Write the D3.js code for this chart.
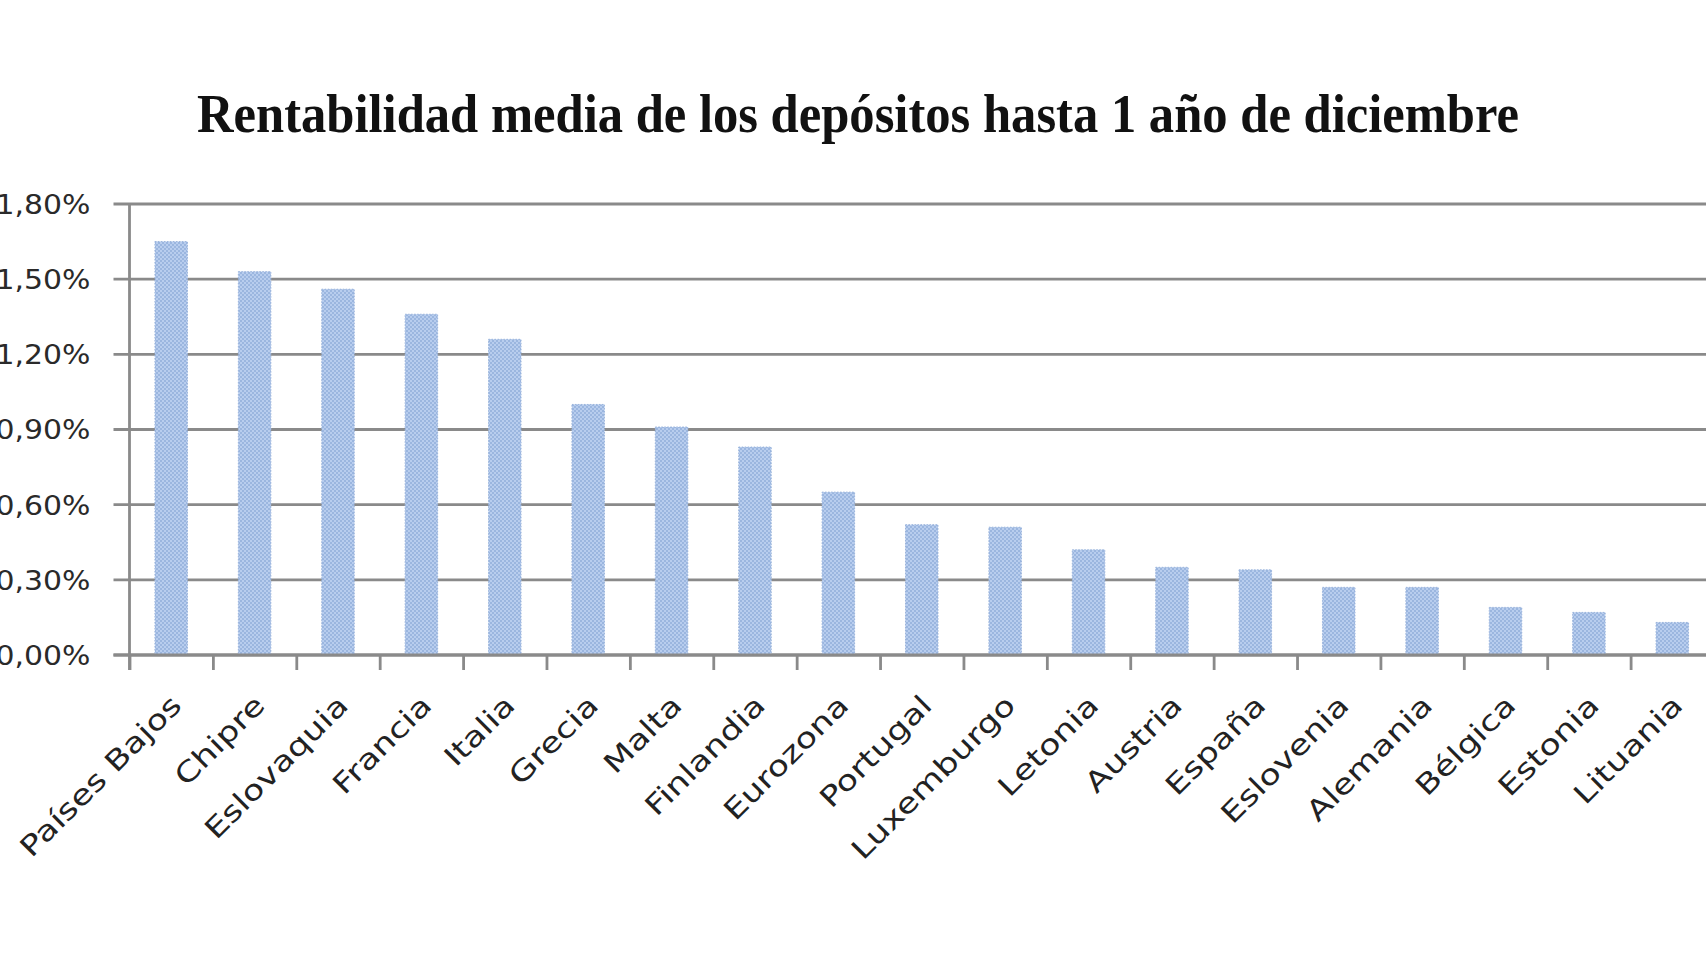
<!DOCTYPE html>
<html>
<head>
<meta charset="utf-8">
<script src="https://cdn.jsdelivr.net/npm/d3@7"></script>
<style>
  html, body { margin: 0; padding: 0; background: #ffffff; }
  svg { display: block; }
</style>
</head>
<body>
<svg id="chart" width="1706" height="960"></svg>
<script>
const titleText = "Rentabilidad media de los depósitos hasta 1 año de diciembre";
const categories = ["Países Bajos","Chipre","Eslovaquia","Francia","Italia","Grecia","Malta","Finlandia","Eurozona","Portugal","Luxemburgo","Letonia","Austria","España","Eslovenia","Alemania","Bélgica","Estonia","Lituania"];
const values = [1.65,1.53,1.46,1.36,1.26,1.00,0.91,0.83,0.65,0.52,0.51,0.42,0.35,0.34,0.27,0.27,0.19,0.17,0.13];
const yTicks = [0,0.3,0.6,0.9,1.2,1.5,1.8];

const W = 1706, H = 960;
const plotLeft = 129.5, plotRight = 1714, plotTop = 204, plotBottom = 655;

const svg = d3.select("#chart");

// pattern for bars
const defs = svg.append("defs");
const pat = defs.append("pattern").attr("id","dots").attr("patternUnits","userSpaceOnUse")
  .attr("width",4).attr("height",4);
pat.append("rect").attr("width",4).attr("height",4).attr("fill","#b8cdee");
pat.append("circle").attr("cx",1).attr("cy",1).attr("r",1).attr("fill","#92aedb");
pat.append("circle").attr("cx",3).attr("cy",3).attr("r",1).attr("fill","#92aedb");

const x = d3.scaleBand().domain(categories).range([plotLeft, plotRight]).paddingInner(0.61).paddingOuter(0.305);
const y = d3.scaleLinear().domain([0, 1.8]).range([plotBottom, plotTop]);
const xb = d3.scaleLinear().domain([0, categories.length]).range([plotLeft, plotRight]);

// title
svg.append("text")
  .attr("x", 858).attr("y", 132)
  .attr("text-anchor","middle")
  .attr("font-family","'Liberation Serif', serif")
  .attr("font-weight","bold")
  .attr("font-size", 54)
  .attr("textLength", 1322)
  .attr("lengthAdjust","spacingAndGlyphs")
  .attr("fill","#111")
  .text(titleText);

// gridlines
svg.append("g")
  .selectAll("line").data(yTicks).join("line")
  .attr("x1", plotLeft - 16).attr("x2", W)
  .attr("y1", d => y(d)).attr("y2", d => y(d))
  .attr("stroke","#8a8a8a").attr("stroke-width",2.8);

// y axis
const yAxis = svg.append("g").attr("transform", `translate(${plotLeft},0)`)
  .call(d3.axisLeft(y).tickValues(yTicks).tickSize(0).tickSizeOuter(0)
    .tickFormat(d => d.toFixed(2).replace(".", ",") + "%"));
yAxis.select(".domain").remove();
yAxis.selectAll("text")
  .attr("x", 0)
  .attr("dy", "0.36em")
  .attr("transform","translate(-39,0) scale(1.15,1)")
  .attr("font-family","'DejaVu Sans', sans-serif")
  .attr("font-size", 26)
  .attr("fill","#2a2a2a");
svg.append("line")
  .attr("x1", plotLeft).attr("x2", plotLeft)
  .attr("y1", y(1.8)).attr("y2", plotBottom + 15)
  .attr("stroke","#8a8a8a").attr("stroke-width",2.8);

// bars
svg.append("g").selectAll("rect").data(values).join("rect")
  .attr("x", (d,i) => x(categories[i]))
  .attr("width", x.bandwidth())
  .attr("y", d => y(d))
  .attr("height", d => y(0) - y(d))
  .attr("fill","url(#dots)")
  .attr("stroke","#9ab4dc").attr("stroke-width",1).attr("stroke-dasharray","1.5,1.5");

// x axis boundary ticks
const xAxis = svg.append("g").attr("transform", `translate(0,${plotBottom})`)
  .call(d3.axisBottom(xb).tickValues(d3.range(0, categories.length + 1)).tickSize(15).tickSizeOuter(0).tickFormat(""));
xAxis.select(".domain").remove();
xAxis.selectAll("line").attr("stroke","#8a8a8a").attr("stroke-width",2.8);
svg.append("line")
  .attr("x1", plotLeft - 16).attr("x2", W)
  .attr("y1", y(0)).attr("y2", y(0))
  .attr("stroke","#8a8a8a").attr("stroke-width",2.8);

// category labels
svg.append("g").selectAll("text").data(categories).join("text")
  .attr("transform", d => `translate(${x(d) + x.bandwidth()/2 + 12},${707}) rotate(-45) scale(1.25,1)`)
  .attr("text-anchor","end")
  .attr("font-family","'DejaVu Sans', sans-serif")
  .attr("font-size", 28)
  .attr("fill","#222")
  .text(d => d);
</script>
</body>
</html>
